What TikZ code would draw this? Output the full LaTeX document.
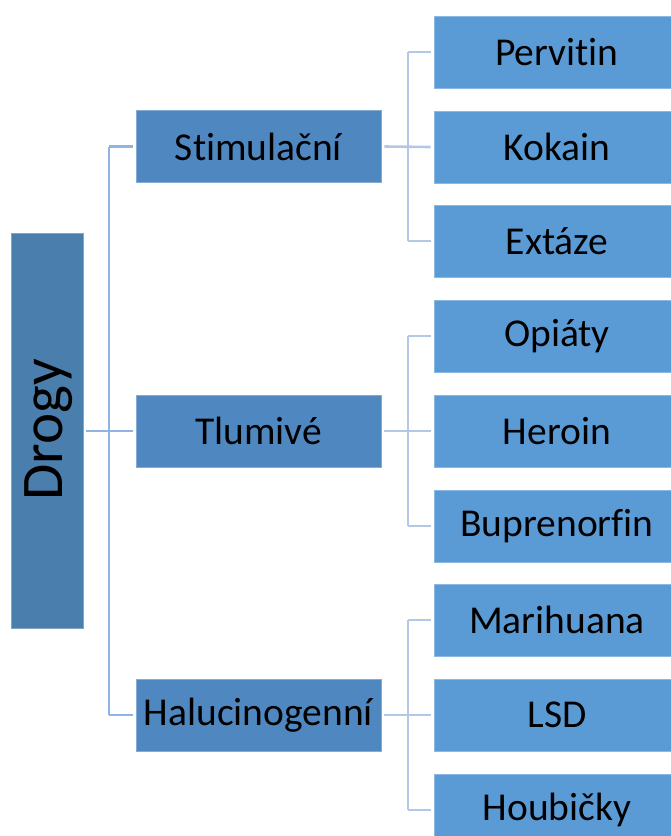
\documentclass[tikz,border=0pt]{standalone}
\usepackage{fontspec}
\setmainfont[Ligatures={NoCommon}]{Carlito}
\definecolor{rootc}{RGB}{74,126,172}
\definecolor{midc}{RGB}{79,136,192}
\definecolor{leafc}{RGB}{91,155,213}
\definecolor{lconnc}{RGB}{143,180,227}
\definecolor{rconnc}{RGB}{180,199,231}
\tikzset{
  rootbox/.style={fill=rootc, draw=rootc!70!white, line width=0.6bp, minimum width=72bp, minimum height=395bp, inner sep=0pt},
  midbox/.style={fill=midc, draw=midc!70!white, line width=0.6bp, minimum width=245bp, minimum height=72bp, inner sep=0pt, font=\fontsize{39.5bp}{41bp}\selectfont},
  leafbox/.style={fill=leafc, draw=leafc!70!white, line width=0.6bp, minimum width=246bp, minimum height=72bp, inner sep=0pt, font=\fontsize{39.5bp}{41bp}\selectfont},
  lconn/.style={draw=lconnc, line width=2.6bp},
  rconn/.style={draw=rconnc, line width=2.6bp},
}
\begin{document}
\begin{tikzpicture}[x=1bp,y=-1bp]
\useasboundingbox (0,0) rectangle (671,836);
\clip (0,0) rectangle (671,836);
% root
\node[rootbox] (drogy) at (47,430.5) {};
\node[rotate=90, font=\fontsize{59bp}{60bp}\selectfont] (drogyt) at (49,430) {Drogy};
% middle
\node[midbox] (st) at (258.5,146.5) {Stimulační};
\node[midbox] (tl) at (258.5,431) {Tlumivé};
\node[midbox] (ha) at (258.5,715) {Halucinogenní};
% leaves
\node[leafbox] (pe) at (557,52) {Pervitin};
\node[leafbox] (ko) at (557,147) {Kokain};
\node[leafbox] (ex) at (557,241) {Extáze};
\node[leafbox] (op) at (557,336) {Opiáty};
\node[leafbox] (he) at (557,431) {Heroin};
\node[leafbox] (bu) at (557,526) {Buprenorfin};
\node[leafbox] (ma) at (557,620) {Marihuana};
\node[leafbox] (ls) at (557,715) {LSD};
\node[leafbox] (ho) at (557,810) {Houbičky};
% hubs
\coordinate (h0) at (109,431);
\coordinate (h1) at (408,146.5);
\coordinate (h2) at (408,431);
\coordinate (h3) at (408,715);
% left tree
\draw[lconn] ([xshift=3bp]drogy.east |- h0) -- ([xshift=-3bp]tl.west);
\draw[lconn] (h0 |- st.west) -- (h0 |- ha.west);
\draw[lconn] (h0 |- st.west) -- ([xshift=-3bp]st.west);
\draw[lconn] (h0 |- ha.west) -- ([xshift=-3bp]ha.west);
% right trees
\draw[rconn] ([xshift=3bp]st.east) -- ([xshift=-3bp]ko.west);
\draw[rconn] (h1 |- pe.west) -- (h1 |- ex.west);
\draw[rconn] (h1 |- pe.west) -- ([xshift=-3bp]pe.west);
\draw[rconn] (h1 |- ex.west) -- ([xshift=-3bp]ex.west);
\draw[rconn] ([xshift=3bp]tl.east) -- ([xshift=-3bp]he.west);
\draw[rconn] (h2 |- op.west) -- (h2 |- bu.west);
\draw[rconn] (h2 |- op.west) -- ([xshift=-3bp]op.west);
\draw[rconn] (h2 |- bu.west) -- ([xshift=-3bp]bu.west);
\draw[rconn] ([xshift=3bp]ha.east) -- ([xshift=-3bp]ls.west);
\draw[rconn] (h3 |- ma.west) -- (h3 |- ho.west);
\draw[rconn] (h3 |- ma.west) -- ([xshift=-3bp]ma.west);
\draw[rconn] (h3 |- ho.west) -- ([xshift=-3bp]ho.west);
\end{tikzpicture}
\end{document}
